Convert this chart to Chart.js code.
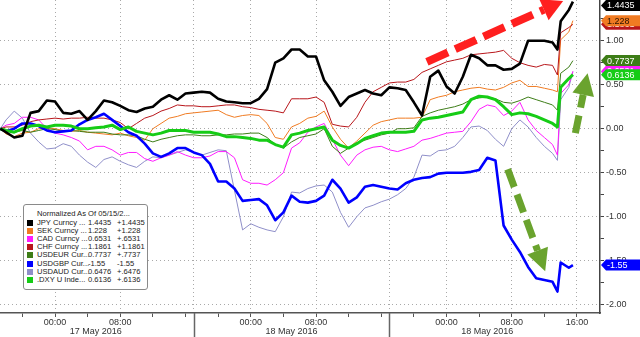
<!DOCTYPE html>
<html>
<head>
<meta charset="utf-8">
<script src="https://cdn.jsdelivr.net/npm/chart.js@4.4.0/dist/chart.umd.min.js"></script>
<style>
html,body{margin:0;padding:0;background:#fff;}
#wrap{position:relative;width:640px;height:337px;overflow:hidden;}
#c{position:absolute;left:0;top:0;display:block;}
#legend{position:absolute;left:23px;top:204px;width:125px;height:86px;border:1px solid #8a8a8a;border-radius:3px;background:#fff;box-sizing:border-box;font-family:'Liberation Sans',Arial,sans-serif;font-size:7.6px;color:#222;}
#legend .t{position:absolute;left:13px;top:5px;line-height:8px;white-space:nowrap;}
#legend .r{position:absolute;left:0;height:8px;line-height:8px;width:123px;white-space:nowrap;}
#legend .sw{position:absolute;left:3px;top:1px;width:6px;height:6px;}
#legend .n{position:absolute;left:13px;top:0;}
#legend .v{position:absolute;left:64px;top:0;}
#legend .d{position:absolute;left:93px;top:0;}
</style>
</head>
<body>
<div id="wrap">
<canvas id="c" width="640" height="337"></canvas>
<div id="legend"></div>
</div>
<script>
// ---- data ----
const hours = [-6.7,-6,-5,-4,-3,-2,-1,0,1,2,3,4,5,6,7,8,9,10,11,12,13,14,15,16,17,18,19,20,21,22,23,24,25,26,27,28,29,30,31,32,33,34,35,36,37,38,39,40,41,42,43,44,45,46,47,48,49,50,51,52,53,54,55,56,57,58,59,60,61,61.6,62,63,63.5];

const jpy = [0.0,-0.04,-0.1,-0.08,0.18,0.2,0.32,0.31,0.18,0.17,0.2,0.1,0.2,0.32,0.3,0.26,0.21,0.19,0.23,0.25,0.33,0.38,0.33,0.4,0.41,0.42,0.41,0.34,0.31,0.3,0.29,0.29,0.34,0.45,0.75,0.8,0.9,0.9,0.82,0.82,0.55,0.42,0.26,0.36,0.4,0.44,0.4,0.38,0.47,0.46,0.44,0.3,0.15,0.59,0.66,0.48,0.4,0.59,0.84,0.8,0.72,0.72,0.67,0.68,0.74,1.0,1.0,1.0,0.98,0.9,1.22,1.35,1.4435];

const sek = [0.0,-0.06,-0.09,-0.05,-0.04,0.0,0.01,0.0,-0.02,-0.03,-0.02,-0.04,-0.05,-0.06,-0.07,-0.05,-0.08,-0.1,-0.13,0.0,0.06,0.12,0.14,0.17,0.18,0.19,0.2,0.21,0.16,0.13,0.15,0.16,0.15,0.06,-0.1,-0.12,0.02,0.06,0.12,0.14,0.2,0.02,-0.12,-0.22,-0.14,-0.05,0.04,0.08,0.1,0.12,0.12,0.12,0.13,0.33,0.36,0.38,0.42,0.44,0.46,0.47,0.45,0.44,0.47,0.52,0.55,0.48,0.48,0.46,0.44,0.42,1.01,1.1,1.228];

const cad = [0.0,0.04,0.06,0.13,0.13,0.1,0.0,-0.05,-0.07,-0.1,-0.14,-0.24,-0.2,-0.2,-0.24,-0.3,-0.27,-0.27,-0.34,-0.37,-0.33,-0.3,-0.26,-0.3,-0.33,-0.33,-0.31,-0.26,-0.26,-0.33,-0.58,-0.62,-0.62,-0.64,-0.58,-0.5,-0.22,-0.16,-0.04,0.02,0.06,-0.12,-0.3,-0.42,-0.3,-0.24,-0.21,-0.2,-0.24,-0.26,-0.23,-0.2,-0.13,-0.11,-0.08,-0.05,-0.04,-0.03,0.08,0.22,0.27,0.25,0.15,0.2,0.3,0.1,-0.02,-0.1,-0.18,-0.3,0.4,0.5,0.6531];

const chf = [0.0,0.02,0.02,0.04,0.08,0.1,0.11,0.12,0.11,0.12,0.12,0.13,0.12,0.12,0.1,0.07,0.0,0.06,0.12,0.15,0.2,0.23,0.27,0.26,0.26,0.25,0.25,0.26,0.27,0.27,0.25,0.24,0.22,0.21,0.2,0.18,0.34,0.34,0.34,0.36,0.3,0.05,0.03,0.02,0.13,0.3,0.42,0.47,0.52,0.53,0.53,0.56,0.64,0.68,0.72,0.76,0.78,0.8,0.84,0.85,0.86,0.87,0.89,0.8,0.75,0.72,0.7,0.73,0.72,0.61,1.09,1.15,1.1861];

const usdeur = [0.0,-0.02,-0.04,-0.02,-0.04,-0.02,0.0,-0.01,-0.03,-0.02,-0.03,-0.04,-0.04,-0.04,-0.06,-0.07,-0.07,-0.08,-0.12,-0.15,-0.12,-0.1,-0.08,-0.07,-0.07,-0.08,-0.08,-0.07,-0.07,-0.06,-0.06,-0.05,-0.05,-0.1,-0.18,-0.22,-0.15,-0.1,-0.08,-0.06,0.0,-0.2,-0.28,-0.22,-0.16,-0.13,-0.1,-0.07,-0.05,0.0,0.0,0.01,0.14,0.18,0.21,0.23,0.25,0.28,0.33,0.35,0.36,0.34,0.3,0.29,0.32,0.36,0.33,0.3,0.27,0.21,0.63,0.7,0.7737];

const usdgbp = [0.0,-0.03,0.0,0.06,0.06,0.03,-0.02,-0.04,-0.03,-0.02,0.05,0.1,0.13,0.17,0.1,0.03,-0.04,-0.08,-0.17,-0.28,-0.32,-0.28,-0.22,-0.22,-0.27,-0.3,-0.4,-0.6,-0.6,-0.68,-0.82,-0.81,-0.8,-0.87,-1.04,-0.95,-0.76,-0.83,-0.84,-0.82,-0.76,-0.58,-0.68,-0.84,-0.78,-0.66,-0.64,-0.66,-0.68,-0.69,-0.62,-0.58,-0.56,-0.55,-0.51,-0.5,-0.5,-0.5,-0.49,-0.47,-0.33,-0.36,-1.1,-1.26,-1.4,-1.57,-1.7,-1.72,-1.74,-1.85,-1.52,-1.58,-1.55];

const usdaud = [0.0,0.1,0.2,0.12,-0.05,-0.15,-0.23,-0.22,-0.17,-0.2,-0.3,-0.38,-0.44,-0.35,-0.32,-0.37,-0.41,-0.44,-0.37,-0.32,-0.33,-0.3,-0.27,-0.24,-0.27,-0.3,-0.27,-0.24,-0.25,-0.7,-1.15,-1.08,-1.12,-1.15,-1.17,-1.0,-0.72,-0.73,-0.68,-0.65,-0.64,-0.72,-0.95,-1.12,-1.0,-0.9,-0.87,-0.83,-0.8,-0.75,-0.68,-0.55,-0.3,-0.31,-0.25,-0.24,-0.2,-0.1,0.02,0.03,-0.02,-0.12,-0.2,0.0,0.1,0.02,-0.1,-0.2,-0.28,-0.36,0.33,0.47,0.6476];

const dxy = [0.0,-0.02,-0.04,0.0,0.03,0.04,0.02,0.04,0.04,0.03,0.0,0.0,0.01,0.02,0.04,-0.01,0.02,-0.03,-0.05,-0.07,-0.05,-0.02,-0.02,-0.02,-0.04,-0.04,-0.04,-0.06,-0.09,-0.09,-0.1,-0.11,-0.13,-0.13,-0.18,-0.21,-0.07,-0.05,-0.02,0.0,0.02,-0.13,-0.19,-0.22,-0.17,-0.11,-0.08,-0.05,-0.04,-0.04,-0.04,-0.03,0.1,0.12,0.13,0.15,0.17,0.19,0.33,0.37,0.36,0.33,0.25,0.16,0.18,0.17,0.14,0.1,0.06,0.02,0.47,0.57,0.6136];

const seriesNames = ['JPY Curncy ...','SEK Curncy ...','CAD Curncy ...','CHF Curncy ...','USDEUR Cur...','USDGBP Cur...','USDAUD Cur...','.DXY U Inde...'];
const seriesValueText = ['1.4435','1.228','0.6531','1.1861','0.7737','-1.55','0.6476','0.6136'];
const seriesChangeText = ['+1.4435','+1.228','+.6531','+1.1861','+.7737','-1.55','+.6476','+.6136'];
const seriesData = [jpy, sek, cad, chf, usdeur, usdgbp, usdaud, dxy];

const legendTitle = 'Normalized As Of 05/15/2...';

const xTickHours  = [-4,0,4,8,12,16,17,20,24,28,32,36,40,41,44,48,52,56,60,64];
const xTickLabels = ['','00:00','','08:00','','','','','00:00','','08:00','','','','','00:00','','08:00','','16:00'];
const xGridHours  = [0,8,17,24,32,41,48,56,64];
const daySeparators = [17,41];
const dateLabels = ['17 May 2016','18 May 2016','18 May 2016'];
const dateSpans = [[-7,17],[17,41],[41,65]];

const yTickValues = [-2,-1.75,-1.5,-1.25,-1,-0.75,-0.5,-0.25,0,0.25,0.5,0.75,1,1.25];
const yTickLabels = ['-2.00','','-1.50','','-1.00','','-0.50','','0.00','','0.50','','1.00',''];

// annotation arrows, in data coordinates [hour, value]
const arrowRed   = [[45.6, 0.76],[62.3, 1.45]];
const arrowDown  = [[55.5,-0.46],[60.1,-1.62]];
const arrowUp    = [[63.8,-0.05],[65.3, 0.63]];

// ---- styles ----
const colors = ['#000000','#f07b22','#ff1cff','#b8161b','#3d7d17','#0000ff','#8f8fc9','#16cc16'];
const widths = [2.6,1,1,1,1,2.6,1,3];
const orders = [1,6,7,5,4,3,8,2];
const badgeTextColors = ['#ffffff','#2b1400','#ffffff','#ffffff','#ffffff','#ffffff','#ffffff','#ffffff'];
const badgeOrder = [3,1,0,6,2,4,7,5];

// ---- legend (HTML) ----
(function(){
  const lg = document.getElementById('legend');
  const t = document.createElement('div'); t.className='t'; t.textContent = legendTitle; lg.appendChild(t);
  seriesNames.forEach((n,i)=>{
    const r = document.createElement('div'); r.className='r'; r.style.top = (13.5 + i*8.2)+'px';
    r.innerHTML = '<span class="sw" style="background:'+colors[i]+'"></span><span class="n"></span><span class="v"></span><span class="d"></span>';
    r.querySelector('.n').textContent = n;
    r.querySelector('.v').textContent = seriesValueText[i];
    r.querySelector('.d').textContent = seriesChangeText[i];
    lg.appendChild(r);
  });
})();

const FONT = "'Liberation Sans', Arial, sans-serif";

function drawArrow(ctx, p1, p2, color, width, dash, headLen, headW){
  const [x1,y1]=p1,[x2,y2]=p2;
  const ang = Math.atan2(y2-y1, x2-x1);
  const bx = x2 - headLen*Math.cos(ang), by = y2 - headLen*Math.sin(ang);
  ctx.save();
  ctx.strokeStyle = color; ctx.lineWidth = width; ctx.setLineDash(dash); ctx.lineCap='butt';
  ctx.beginPath(); ctx.moveTo(x1,y1); ctx.lineTo(bx,by); ctx.stroke();
  ctx.setLineDash([]); ctx.fillStyle = color;
  ctx.beginPath();
  ctx.moveTo(x2,y2);
  ctx.lineTo(bx + headW/2*Math.sin(ang), by - headW/2*Math.cos(ang));
  ctx.lineTo(bx - headW/2*Math.sin(ang), by + headW/2*Math.cos(ang));
  ctx.closePath(); ctx.fill();
  ctx.restore();
}

const decor = {
  id:'decor',
  afterDatasetsDraw(chart){
    const {ctx, scales:{x,y}} = chart;
    const P = d => [x.getPixelForValue(d[0]), y.getPixelForValue(d[1])];
    drawArrow(ctx, P(arrowRed[0]), P(arrowRed[1]), '#ff1f1f', 8, [23,8], 21, 23);
    drawArrow(ctx, P(arrowDown[0]), P(arrowDown[1]), '#6aa32e', 7, [19,8], 22, 22);
    drawArrow(ctx, P(arrowUp[0]), P(arrowUp[1]), '#6aa32e', 7, [18,8], 22, 22);
  },
  afterDraw(chart){
    const {ctx, chartArea, scales:{x,y}} = chart;
    ctx.save();
    // day separators below axis
    ctx.strokeStyle = '#666'; ctx.lineWidth = 1.5;
    daySeparators.forEach(h=>{
      const px = Math.round(x.getPixelForValue(h))+0.5;
      ctx.beginPath(); ctx.moveTo(px, chartArea.bottom); ctx.lineTo(px, chart.height); ctx.stroke();
    });
    // date labels
    ctx.fillStyle = '#333'; ctx.font = '9px '+FONT; ctx.textAlign='center'; ctx.textBaseline='middle';
    dateSpans.forEach((s,i)=>{
      ctx.fillText(dateLabels[i], x.getPixelForValue((s[0]+s[1])/2), chartArea.bottom + 18.5);
    });
    // value badges
    ctx.textAlign='left';
    badgeOrder.forEach(i=>{
      const d = seriesData[i];
      let cy = y.getPixelForValue(d[d.length-1]);
      cy = Math.max(chartArea.top+5.5, Math.min(chartArea.bottom-5.5, cy));
      const x0 = chartArea.right + 1;
      ctx.fillStyle = colors[i];
      ctx.beginPath();
      ctx.moveTo(x0, cy); ctx.lineTo(x0+5, cy-5.5); ctx.lineTo(chart.width, cy-5.5);
      ctx.lineTo(chart.width, cy+5.5); ctx.lineTo(x0+5, cy+5.5); ctx.closePath(); ctx.fill();
      ctx.fillStyle = badgeTextColors[i];
      ctx.fillText(seriesValueText[i], x0+6, cy+0.5);
    });
    ctx.restore();
  }
};

const isMajorY = v => Math.abs(v*2 - Math.round(v*2)) < 1e-9;

new Chart(document.getElementById('c'), {
  type:'line',
  data:{
    datasets: seriesData.map((arr,i)=>({
      label: seriesNames[i],
      data: hours.map((h,k)=>({x:h, y:arr[k]})),
      borderColor: colors[i],
      borderWidth: widths[i],
      pointRadius: 0,
      tension: 0,
      fill: false,
      order: orders[i],
      borderJoinStyle: 'round'
    }))
  },
  options:{
    responsive:false, animation:false, devicePixelRatio:1,
    layout:{padding:0},
    plugins:{legend:{display:false}, tooltip:{enabled:false}},
    scales:{
      x:{
        type:'linear', min:-6.744, max:66.82,
        afterBuildTicks: s => { s.ticks = xTickHours.map(v=>({value:v})); },
        afterFit: s => { s.height = 24; s.paddingLeft = 0; s.paddingRight = 0; },
        ticks:{ autoSkip:false, maxRotation:0, minRotation:0, padding:0,
          font:{family:FONT, size:9}, color:'#333',
          callback:(v,i)=>xTickLabels[i] },
        grid:{
          color: c => (c.tick && xGridHours.includes(c.tick.value)) ? '#a9a9a9' : 'rgba(0,0,0,0)',
          lineWidth:1, tickLength:4,
          tickColor: c => (c.tick && daySeparators.includes(c.tick.value)) ? 'rgba(0,0,0,0)' : '#555'
        },
        border:{display:true, color:'#555', width:1.5, dash:[1,3]}
      },
      y:{
        position:'right', min:-2.094, max:1.4625,
        afterBuildTicks: s => { s.ticks = yTickValues.map(v=>({value:v})); },
        afterFit: s => { s.width = 40; s.paddingTop = 0; s.paddingBottom = 0; },
        ticks:{ padding:2, font:{family:FONT, size:9}, color:'#333', autoSkip:false,
          callback:(v,i)=>yTickLabels[i] },
        grid:{
          color: c => (c.tick && isMajorY(c.tick.value)) ? '#a9a9a9' : 'rgba(0,0,0,0)',
          lineWidth:1, tickLength:4, tickColor:'#444'
        },
        border:{display:true, color:'#444', width:1.5, dash:[1,3]}
      }
    }
  },
  plugins:[decor]
});
</script>
</body>
</html>
